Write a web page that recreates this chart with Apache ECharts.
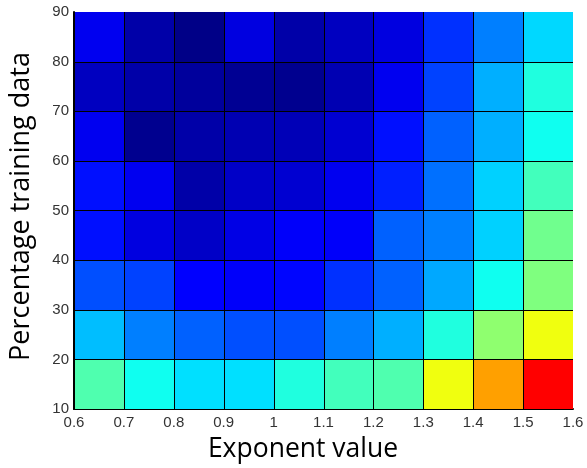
<!DOCTYPE html>
<html>
<head>
<meta charset="utf-8">
<script src="https://cdn.jsdelivr.net/npm/echarts@6/dist/echarts.min.js"></script>
<style>
  html, body { margin: 0; padding: 0; background: #fff; }
  #chart { width: 587px; height: 468px; }
</style>
</head>
<body>
<div id="chart"></div>
<script>
// Lower edge of each cell along both axes
const exponents = [0.6, 0.7, 0.8, 0.9, 1.0, 1.1, 1.2, 1.3, 1.4, 1.5];
const percentages = [10, 20, 30, 40, 50, 60, 70, 80];
const exponentStep = 0.1;
const percentageStep = 10;

// Cell values, one row per percentage band (bottom row first)
const row10 = [0.453, 0.390, 0.345, 0.345, 0.406, 0.440, 0.453, 0.610, 0.718, 0.875];
const row20 = [0.312, 0.250, 0.220, 0.203, 0.203, 0.250, 0.297, 0.406, 0.516, 0.610];
const row30 = [0.203, 0.190, 0.125, 0.120, 0.130, 0.172, 0.220, 0.290, 0.390, 0.500];
const row40 = [0.140, 0.095, 0.070, 0.100, 0.120, 0.120, 0.220, 0.250, 0.330, 0.485];
const row50 = [0.140, 0.110, 0.040, 0.070, 0.080, 0.110, 0.156, 0.235, 0.330, 0.440];
const row60 = [0.110, 0.016, 0.040, 0.050, 0.055, 0.080, 0.140, 0.220, 0.297, 0.390];
const row70 = [0.063, 0.040, 0.028, 0.020, 0.016, 0.050, 0.110, 0.190, 0.297, 0.406];
const row80 = [0.110, 0.040, 0.008, 0.095, 0.040, 0.063, 0.095, 0.172, 0.250, 0.337];
const rows = [row10, row20, row30, row40, row50, row60, row70, row80];

// Jet colour scale
const jet = ['#00007f', '#0000ff', '#007fff', '#00ffff', '#7fff7f', '#ffff00', '#ff7f00', '#ff0000', '#7f0000'];

const cells = [];
rows.forEach((row, j) => {
  row.forEach((v, i) => {
    cells.push([exponents[i], percentages[j], v]);
  });
});

const chart = echarts.init(document.getElementById('chart'), null, { renderer: 'canvas' });

chart.setOption({
  animation: false,
  backgroundColor: '#ffffff',
  grid: { left: 71, right: 14, top: 12, bottom: 58 },
  xAxis: {
    type: 'value',
    min: 0.6,
    max: 1.6,
    interval: 0.1,
    name: 'Exponent value',
    nameLocation: 'middle',
    nameGap: 27,
    nameTextStyle: { fontFamily: 'Open Sans', fontSize: 26.5, color: '#000', padding: [0, 41, 0, 0] },
    axisLine: { show: true, onZero: false, lineStyle: { color: '#000', width: 2 } },
    axisTick: { show: false },
    splitLine: { show: false },
    axisLabel: {
      fontFamily: 'Liberation Sans',
      fontSize: 15,
      color: '#333',
      margin: 6,
      formatter: v => String(Math.round(v * 10) / 10)
    }
  },
  yAxis: {
    type: 'value',
    min: 10,
    max: 90,
    interval: 10,
    name: 'Percentage training data',
    nameLocation: 'middle',
    nameGap: 39,
    nameTextStyle: { fontFamily: 'Open Sans', fontSize: 27, color: '#000', padding: [0, 0, 0, 8] },
    axisLine: { show: true, onZero: false, lineStyle: { color: '#000', width: 2 } },
    axisTick: { show: false },
    splitLine: { show: false },
    axisLabel: { fontFamily: 'Liberation Sans', fontSize: 15, color: '#333', margin: 5 }
  },
  visualMap: {
    show: false,
    type: 'continuous',
    min: 0,
    max: 1,
    dimension: 2,
    inRange: { color: jet }
  },
  series: [{
    type: 'custom',
    data: cells,
    encode: { x: 0, y: 1 },
    renderItem: (params, api) => {
      const x0 = api.value(0);
      const y0 = api.value(1);
      const p0 = api.coord([x0, y0]);
      const p1 = api.coord([x0 + exponentStep, y0 + percentageStep]);
      const left = Math.round(p0[0]);
      const right = Math.round(p1[0]);
      const top = Math.round(p1[1]);
      const bottom = Math.round(p0[1]);
      return {
        type: 'group',
        children: [
          {
            type: 'rect',
            z2: 0,
            shape: { x: left, y: top, width: right - left, height: bottom - top },
            style: { fill: api.visual('color') }
          },
          {
            // cell edges on the left and bottom sides only
            type: 'polyline',
            z2: 10,
            shape: { points: [[left + 0.5, top], [left + 0.5, bottom + 0.5], [right, bottom + 0.5]] },
            style: { stroke: '#000', lineWidth: 1, fill: null }
          }
        ]
      };
    }
  }]
});
</script>
</body>
</html>
